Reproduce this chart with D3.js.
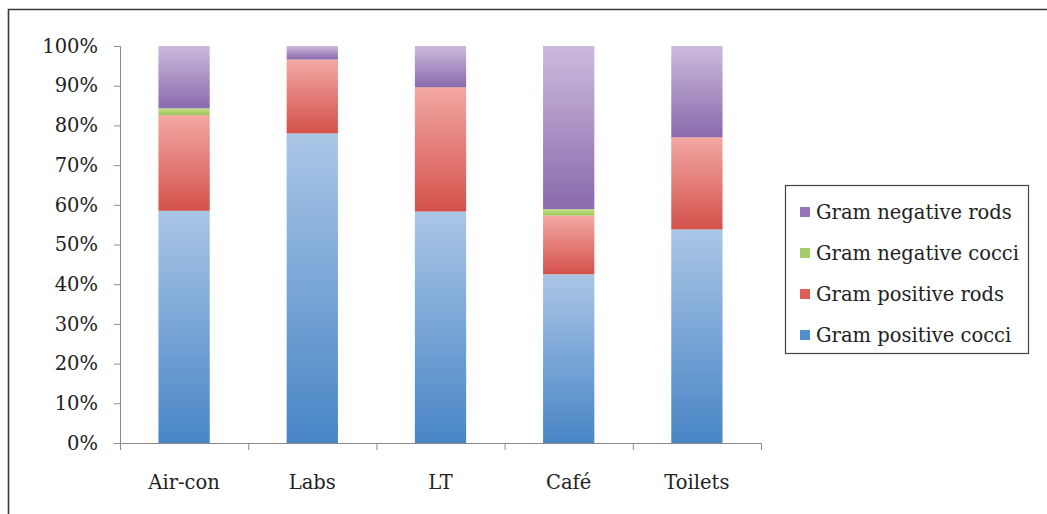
<!DOCTYPE html>
<html>
<head>
<meta charset="utf-8">
<script src="https://cdn.jsdelivr.net/npm/d3@7"></script>
<style>
  html, body { margin: 0; padding: 0; background: #fff; }
  svg { display: block; }
  text { font-family: "DejaVu Serif", serif; fill: #222; }
</style>
</head>
<body>
<svg id="chart" width="1047" height="514"></svg>
<script>
// Sampling sites along the x axis
const categories = ["Air-con", "Labs", "LT", "Café", "Toilets"];

// Share of isolates (%) per site, one array per morphology group
const gramPositiveCocci = [58.5, 78.0, 58.3, 42.5, 53.8];
const gramPositiveRods  = [24.1, 18.6, 31.3, 14.8, 23.2];
const gramNegativeCocci = [1.7, 0.0, 0.0, 1.6, 0.0];
const gramNegativeRods  = [15.7, 3.4, 10.4, 41.1, 23.0];

const seriesNames = ["Gram positive cocci", "Gram positive rods", "Gram negative cocci", "Gram negative rods"];
const yTickValues = [0, 10, 20, 30, 40, 50, 60, 70, 80, 90, 100];

// light (top) and dark (bottom) shade of each series gradient
const seriesColors = [
  { light: "#aac6e6", dark: "#4885c6", key: "#4f8fcf" },
  { light: "#f3a8a4", dark: "#d4514a", key: "#dd5f58" },
  { light: "#c4de8c", dark: "#9cc65a", key: "#a6cd68" },
  { light: "#cbbbdc", dark: "#8a69ad", key: "#9476b8" }
];

const rows = categories.map((c, i) => ({
  category: c,
  "Gram positive cocci": gramPositiveCocci[i],
  "Gram positive rods": gramPositiveRods[i],
  "Gram negative cocci": gramNegativeCocci[i],
  "Gram negative rods": gramNegativeRods[i]
}));

const stack = d3.stack().keys(seriesNames);
const layers = stack(rows);

const svg = d3.select("#chart");
const plot = { left: 120, right: 761, top: 46, bottom: 443 };
const fontSize = 19.5;

// outer frame (top and left edges)
svg.append("path")
  .attr("d", `M8.5,514 V9.5 H1047`)
  .attr("fill", "none")
  .attr("stroke", "#3a3a3a")
  .attr("stroke-width", 1.6);

const x = d3.scaleBand().domain(categories).range([plot.left, plot.right]).paddingInner(0.6).paddingOuter(0.3);
const xOuter = d3.scaleBand().domain(categories).range([plot.left, plot.right]);
const y = d3.scaleLinear().domain([0, 100]).range([plot.bottom, plot.top]);

const defs = svg.append("defs");

// bars: one gradient per segment so each runs light-to-dark over its own height
layers.forEach((layer, si) => {
  const col = seriesColors[si];
  layer.forEach((d, ci) => {
    if (d[1] - d[0] <= 0) return;
    const id = `g${si}_${ci}`;
    const g = defs.append("linearGradient").attr("id", id)
      .attr("x1", 0).attr("y1", 0).attr("x2", 0).attr("y2", 1);
    g.append("stop").attr("offset", "0%").attr("stop-color", col.light);
    g.append("stop").attr("offset", "100%").attr("stop-color", col.dark);
    svg.append("rect")
      .attr("x", x(categories[ci]))
      .attr("width", x.bandwidth())
      .attr("y", y(d[1]))
      .attr("height", y(d[0]) - y(d[1]))
      .attr("fill", `url(#${id})`);
  });
});

// y axis
const yAxis = d3.axisLeft(y).tickValues(yTickValues).tickFormat(d => d + "%").tickSize(6).tickPadding(16);
const yg = svg.append("g").attr("transform", `translate(${plot.left},0)`).call(yAxis);
yg.select(".domain").attr("stroke", "#8a8a8a").attr("d", `M-6,${plot.top}.5H0.5V${plot.bottom}.5H-6`);
yg.selectAll(".tick line").attr("stroke", "#8a8a8a");
yg.selectAll(".tick text").attr("font-size", fontSize).attr("fill", "#222").attr("font-family", "DejaVu Serif");

// x axis: line with tick marks at category boundaries
const xg = svg.append("g").attr("transform", `translate(0,${plot.bottom})`);
xg.append("line").attr("x1", plot.left).attr("x2", plot.right).attr("y1", 0.5).attr("y2", 0.5).attr("stroke", "#8a8a8a");
const boundaries = categories.map(c => xOuter(c)).concat([plot.right]);
xg.selectAll(".bt").data(boundaries).join("line")
  .attr("x1", d => d + 0.5).attr("x2", d => d + 0.5).attr("y1", 0).attr("y2", 7)
  .attr("stroke", "#8a8a8a");
xg.selectAll(".cl").data(categories).join("text")
  .attr("x", d => xOuter(d) + xOuter.bandwidth() / 2)
  .attr("y", 46)
  .attr("text-anchor", "middle")
  .attr("font-size", fontSize)
  .text(d => d);

// legend
const legend = svg.append("g");
legend.append("rect").attr("x", 785.5).attr("y", 185.5).attr("width", 243).attr("height", 168)
  .attr("fill", "#fff").attr("stroke", "#444").attr("stroke-width", 1.2);
const legendOrder = [3, 2, 1, 0];
legendOrder.forEach((si, i) => {
  const cy = 212 + i * 41;
  legend.append("rect").attr("x", 800).attr("y", cy - 5).attr("width", 10).attr("height", 10).attr("fill", seriesColors[si].key);
  legend.append("text").attr("x", 816).attr("y", cy + 7).attr("font-size", fontSize).text(seriesNames[si]);
});
</script>
</body>
</html>
